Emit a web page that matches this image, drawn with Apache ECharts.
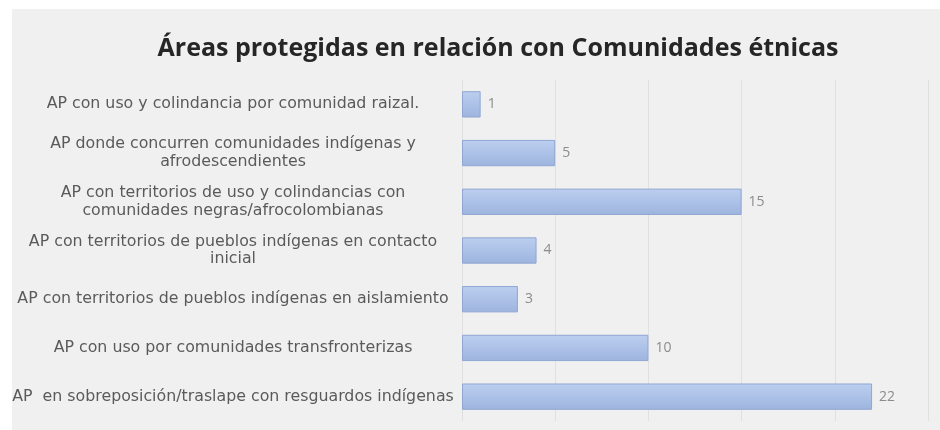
<!DOCTYPE html>
<html>
<head>
<meta charset="utf-8">
<script src="https://cdn.jsdelivr.net/npm/echarts@6/dist/echarts.min.js"></script>
<style>
html,body{margin:0;padding:0;background:#ffffff;}
#wrap{position:absolute;left:12px;top:9px;width:928px;height:421px;background:#f0f0f0;}
#chart{position:absolute;left:0;top:0;width:940px;height:430px;}
</style>
</head>
<body>
<div id="wrap"></div>
<div id="chart"></div>
<script>
var titleText = 'Áreas protegidas en relación con Comunidades étnicas';
var categories = [
  'AP con uso y colindancia por comunidad raizal.',
  'AP donde concurren comunidades indígenas y\nafrodescendientes',
  'AP con territorios de uso y colindancias con\ncomunidades negras/afrocolombianas',
  'AP con territorios de pueblos indígenas en contacto\ninicial',
  'AP con territorios de pueblos indígenas en aislamiento',
  'AP con uso por comunidades transfronterizas',
  'AP  en sobreposición/traslape con resguardos indígenas'
];
var values = [1, 5, 15, 4, 3, 10, 22];

var chart = echarts.init(document.getElementById('chart'), null, {renderer: 'canvas'});
chart.setOption({
  backgroundColor: 'transparent',
  animation: false,
  title: {
    text: titleText,
    left: 493,
    textAlign: 'center',
    top: 31,
    textStyle: {fontFamily: 'Open Sans', fontWeight: 'bold', fontSize: 25, color: '#262626'}
  },
  grid: {left: 462, right: 12, top: 80, bottom: 9, containLabel: false},
  xAxis: {
    type: 'value', min: 0, max: 25, interval: 5,
    axisLabel: {show: false},
    axisLine: {show: false},
    axisTick: {show: false},
    splitLine: {show: true, lineStyle: {color: '#e0e0e0', width: 1}}
  },
  yAxis: {
    type: 'category',
    inverse: true,
    data: categories,
    axisLine: {show: false},
    axisTick: {show: false},
    axisLabel: {
      align: 'center',
      margin: 229,
      fontFamily: 'DejaVu Sans',
      fontSize: 15.8,
      lineHeight: 17.5,
      color: '#5a5a5a'
    }
  },
  series: [{
    type: 'bar',
    data: values,
    barCategoryGap: '46%',
    itemStyle: {
      color: new echarts.graphic.LinearGradient(0, 0, 0, 1, [
        {offset: 0, color: '#bccff0'},
        {offset: 1, color: '#9db4de'}
      ]),
      borderColor: '#8fa6d2',
      borderWidth: 1
    },
    label: {
      show: true,
      position: 'right',
      distance: 7,
      fontFamily: 'Open Sans',
      fontSize: 14,
      color: '#8c8c8c'
    }
  }]
});
</script>
</body>
</html>
